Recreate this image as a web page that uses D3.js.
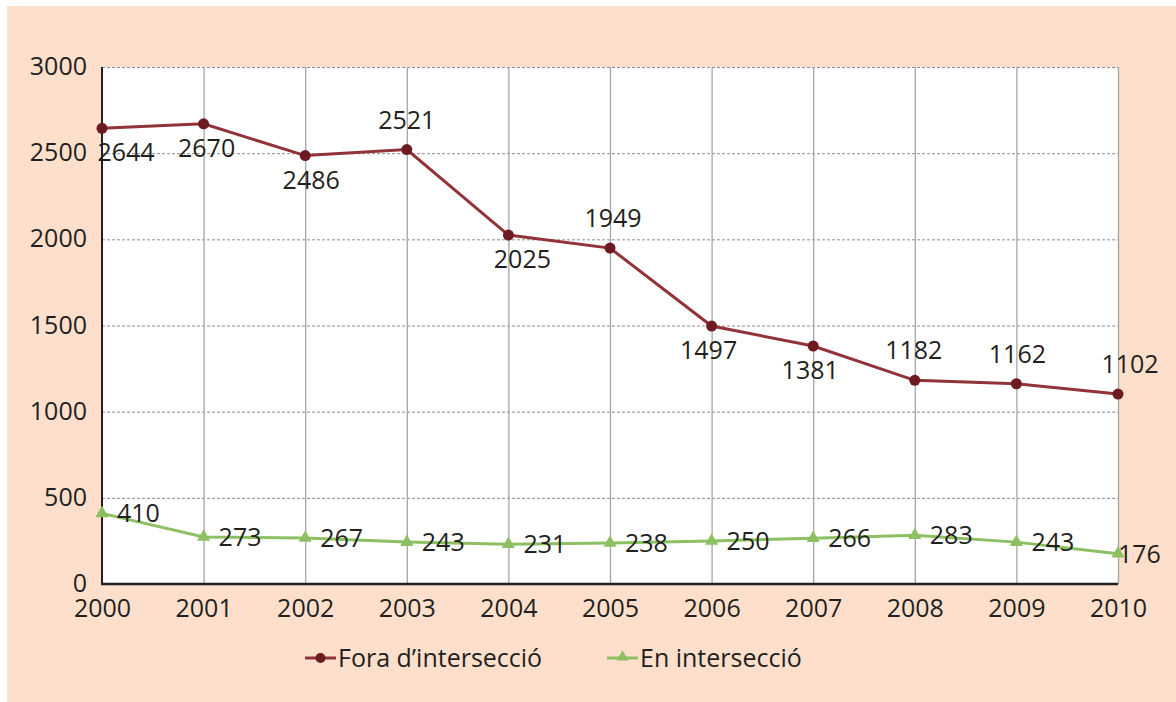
<!DOCTYPE html>
<html>
<head>
<meta charset="utf-8">
<script src="https://cdn.jsdelivr.net/npm/d3@7"></script>
<style>
  html, body { margin: 0; padding: 0; background: #ffffff; }
  svg { display: block; }
  text { font-family: "Open Sans", "Noto Sans", sans-serif; fill: #231f20; }
</style>
</head>
<body>
<svg id="chart" width="1176" height="702"></svg>
<script>
// Years on the x axis
const years = [2000, 2001, 2002, 2003, 2004, 2005, 2006, 2007, 2008, 2009, 2010];
// Accidents outside intersections
const foraValues = [2644, 2670, 2486, 2521, 2025, 1949, 1497, 1381, 1182, 1162, 1102];
// Accidents at intersections
const enValues = [410, 273, 267, 243, 231, 238, 250, 266, 283, 243, 176];
// Y axis ticks
const yTicks = [0, 500, 1000, 1500, 2000, 2500, 3000];
const seriesNames = ["Fora d\u2019intersecció", "En intersecció"];

// Label placement for the upper series: "below" or "above" the point
const foraLabelSide = ["below", "below", "below", "above", "below", "above", "below", "below", "above", "above", "above"];
const foraLabelShift = [24, 3, 6, 0, 14, 3, -3, -3, -1, 1, 12];

const FS = 25;
const svg = d3.select("#chart");
const W = 1176, H = 702;
const m = { left: 102, right: 1118, top: 67, bottom: 584 };

svg.append("rect").attr("x", 7).attr("y", 6).attr("width", W - 7).attr("height", H - 6).attr("fill", "#fddfcb");
svg.append("rect").attr("x", m.left).attr("y", m.top).attr("width", m.right - m.left).attr("height", m.bottom - m.top).attr("fill", "#ffffff");

const x = d3.scalePoint().domain(years).range([m.left, m.right]);
const y = d3.scaleLinear().domain([0, 3000]).range([m.bottom, m.top]);

// Horizontal dashed grid
svg.append("g").selectAll("line").data(yTicks.filter(d => d > 0)).join("line")
  .attr("x1", m.left).attr("x2", m.right)
  .attr("y1", d => y(d) + 0.5).attr("y2", d => y(d) + 0.5)
  .attr("stroke", "#8c8c8c").attr("stroke-width", 1).attr("stroke-dasharray", "3,2");

// Vertical solid grid
svg.append("g").selectAll("line").data(years.slice(1)).join("line")
  .attr("x1", d => x(d) + 0.5).attr("x2", d => x(d) + 0.5)
  .attr("y1", m.top).attr("y2", m.bottom)
  .attr("stroke", "#a6a6a6").attr("stroke-width", 1.3);

// Axes lines
svg.append("line").attr("x1", m.left).attr("x2", m.left).attr("y1", m.top).attr("y2", m.bottom + 1)
  .attr("stroke", "#231f20").attr("stroke-width", 2);
svg.append("line").attr("x1", m.left - 1).attr("x2", m.right).attr("y1", m.bottom).attr("y2", m.bottom)
  .attr("stroke", "#231f20").attr("stroke-width", 2.5);

// Tick labels
const yAxis = d3.axisLeft(y).tickValues(yTicks).tickFormat(d3.format("d")).tickSize(0).tickPadding(15);
const gy = svg.append("g").attr("transform", `translate(${m.left},0)`).call(yAxis);
gy.select(".domain").remove();
gy.selectAll("text").attr("font-size", FS).attr("font-family", "'Open Sans', 'Noto Sans', sans-serif").attr("fill", "#231f20").attr("dy", "0.3em");

const xAxis = d3.axisBottom(x).tickFormat(d3.format("d")).tickSize(0).tickPadding(15);
const gx = svg.append("g").attr("transform", `translate(0,${m.bottom})`).call(xAxis);
gx.select(".domain").remove();
gx.selectAll("text").attr("font-size", FS).attr("font-family", "'Open Sans', 'Noto Sans', sans-serif").attr("fill", "#231f20").attr("dy", "0.71em");

const redLine = "#913338", redDot = "#6d1b20";
const green = "#8dbf63";

const line = d3.line().x((d, i) => x(years[i])).y(d => y(d));

// Upper series
svg.append("path").datum(foraValues).attr("d", line).attr("fill", "none")
  .attr("stroke", redLine).attr("stroke-width", 3);
svg.append("g").selectAll("circle").data(foraValues).join("circle")
  .attr("cx", (d, i) => x(years[i])).attr("cy", d => y(d)).attr("r", 5.5)
  .attr("fill", redDot);
svg.append("g").selectAll("text").data(foraValues).join("text")
  .attr("x", (d, i) => x(years[i]) + foraLabelShift[i])
  .attr("y", (d, i) => y(d) + (foraLabelSide[i] === "below" ? 33 : -21))
  .attr("text-anchor", "middle").attr("font-size", FS)
  .text(d => d);

// Lower series
svg.append("path").datum(enValues).attr("d", line).attr("fill", "none")
  .attr("stroke", green).attr("stroke-width", 3);
const tri = d3.symbol().type(d3.symbolTriangle).size(75);
svg.append("g").selectAll("path").data(enValues).join("path")
  .attr("transform", (d, i) => `translate(${x(years[i])},${y(d)})`)
  .attr("d", tri).attr("fill", green);
svg.append("g").selectAll("text").data(enValues).join("text")
  .attr("x", (d, i) => x(years[i]) + (i === years.length - 1 ? 0 : 15))
  .attr("y", d => y(d) + 9)
  .attr("font-size", FS)
  .text(d => d);

// Legend
const legend = [
  { name: seriesNames[0], x: 305, color: redLine, dot: redDot, shape: "circle" },
  { name: seriesNames[1], x: 607, color: green, dot: green, shape: "triangle" }
];
const lg = svg.append("g").selectAll("g").data(legend).join("g")
  .attr("transform", d => `translate(${d.x},658)`);
lg.append("line").attr("x1", 0).attr("x2", 31).attr("y1", 0).attr("y2", 0)
  .attr("stroke", d => d.color).attr("stroke-width", 3);
lg.each(function(d) {
  const g = d3.select(this);
  if (d.shape === "circle") {
    g.append("circle").attr("cx", 15.5).attr("cy", 0).attr("r", 5).attr("fill", d.dot);
  } else {
    g.append("path").attr("transform", "translate(15.5,-1)")
      .attr("d", d3.symbol().type(d3.symbolTriangle).size(60)).attr("fill", d.dot);
  }
});
lg.append("text").attr("x", 33).attr("y", 9).attr("font-size", FS).text(d => d.name);
</script>
</body>
</html>
